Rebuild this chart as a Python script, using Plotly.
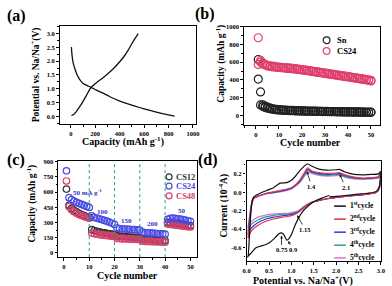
import plotly.graph_objects as go

W, H = 392, 286
SERIF = "Liberation Serif"

# ---------------- data: panel (a) ----------------
A_DIS_CAP = [5, 8, 13, 20, 32, 45, 59, 75, 99, 130, 165, 210, 259, 320, 392, 455, 525, 600, 685, 770, 850]
A_DIS_V = [2.51, 2.30, 2.10, 1.92, 1.74, 1.57, 1.44, 1.32, 1.20, 1.12, 1.05, 0.95, 0.85, 0.71, 0.57, 0.47, 0.37, 0.27, 0.17, 0.08, 0.01]
A_CHG_CAP = [5, 25, 45, 65, 85, 105, 125, 145, 165, 210, 259, 305, 352, 395, 432, 470, 499, 530, 552]
A_CHG_V = [0.02, 0.07, 0.17, 0.30, 0.43, 0.58, 0.73, 0.90, 1.05, 1.22, 1.38, 1.55, 1.74, 1.95, 2.15, 2.40, 2.63, 2.85, 3.0]

# ---------------- data: panel (b) ----------------
CYCLES = list(range(1, 51))
SN_DIS = [630, 265, 120, 105, 95, 85, 78, 72, 68, 65,
          63, 61, 59, 58, 57, 56, 55, 54, 53, 52,
          51, 50, 50, 49, 48, 48, 47, 46, 46, 45,
          45, 44, 44, 43, 43, 42, 42, 41, 41, 40,
          40, 40, 39, 39, 39, 38, 38, 38, 37, 37]
SN_CHG = [410, 118, 100, 90, 82, 75, 70, 66, 63, 61,
          59, 57, 56, 55, 54, 53, 52, 51, 50, 49,
          49, 48, 47, 47, 46, 46, 45, 45, 44, 44,
          43, 43, 42, 42, 41, 41, 40, 40, 39, 39,
          39, 38, 38, 38, 37, 37, 37, 36, 36, 36]
CS24_DIS = [875, 620, 590, 575, 565, 560, 555, 552, 548, 545,
            542, 540, 537, 535, 532, 530, 527, 524, 520, 517,
            513, 510, 506, 502, 498, 494, 490, 486, 482, 478,
            474, 470, 466, 462, 458, 454, 450, 446, 442, 438,
            434, 430, 426, 422, 418, 414, 410, 405, 400, 395]
CS24_CHG = [575, 600, 580, 568, 558, 552, 548, 545, 542, 540,
            537, 535, 532, 530, 527, 525, 522, 519, 515, 512,
            508, 505, 501, 497, 493, 489, 485, 481, 477, 473,
            469, 465, 461, 457, 453, 449, 445, 441, 437, 433,
            429, 425, 421, 417, 413, 409, 405, 400, 395, 388]

# ---------------- data: panel (c) ----------------
C_CS24 = [810, 545, 525, 510, 498, 488, 478, 468, 458, 448,
          365, 350, 342, 335, 328, 320, 312, 303, 292, 280,
          245, 240, 237, 235, 233, 232, 230, 228, 227, 225,
          205, 200, 198, 196, 194, 192, 190, 188, 186, 184,
          330, 340, 342, 340, 336, 332, 328, 322, 316, 310]
C_CS12 = [630, 470, 440, 420, 405, 390, 378, 368, 358, 350,
          228, 220, 212, 206, 200, 196, 192, 188, 184, 180,
          168, 165, 162, 160, 158, 156, 154, 152, 150, 148,
          138, 135, 133, 131, 129, 127, 125, 123, 121, 120,
          300, 298, 295, 292, 288, 284, 280, 276, 272, 268]
C_CS48 = [710, 455, 425, 405, 390, 378, 368, 358, 350, 342,
          195, 188, 183, 179, 176, 173, 170, 167, 164, 162,
          142, 140, 138, 137, 136, 135, 134, 133, 132, 131,
          115, 113, 112, 111, 110, 109, 108, 107, 106, 105,
          285, 280, 277, 274, 270, 267, 264, 261, 258, 255]
RATE_EDGES = [10, 20, 30, 40]
RATE_LABELS = ["50 mA g<sup>-1</sup>", "100", "150", "200", "50"]
RATE_LABEL_X = [9.5, 15.3, 24.8, 35.2, 46.5]
RATE_LABEL_Y = [598, 402, 318, 285, 417]

# ---------------- data: panel (d) ----------------
CV1_CATH_V = [1.85, 1.70, 1.55, 1.45, 1.35, 1.25, 1.16, 1.08, 1.01, 0.95, 0.90, 0.83, 0.775, 0.72, 0.64, 0.53, 0.42, 0.31, 0.20, 0.09, 0.02]
CV1_CATH_I = [-0.035, -0.06, -0.09, -0.12, -0.16, -0.21, -0.28, -0.36, -0.45, -0.50, -0.52, -0.46, -0.44, -0.45, -0.49, -0.54, -0.57, -0.585, -0.605, -0.665, -0.70]
CV_AN_V = [0.03, 0.06, 0.09, 0.12, 0.16, 0.22, 0.3, 0.45, 0.6, 0.75, 0.9, 1.0, 1.1, 1.2, 1.3, 1.36, 1.45, 1.6, 1.8, 2.0, 2.07, 2.2, 2.4, 2.6, 2.8, 2.95, 3.0]
CV_CA_V = [3.0, 2.97, 2.9, 2.7, 2.5, 2.2, 2.0, 1.8, 1.6, 1.45, 1.35, 1.25, 1.15, 1.05, 0.95, 0.8, 0.6, 0.4, 0.25, 0.12, 0.06, 0.03]
CV1_AN_I = [-0.70, -0.50, -0.25, -0.10, -0.05, -0.03, -0.01, 0.02, 0.05, 0.10, 0.105, 0.13, 0.18, 0.24, 0.29, 0.31, 0.285, 0.255, 0.24, 0.245, 0.25, 0.22, 0.195, 0.19, 0.195, 0.20, 0.23]
CV1_RET_V = [3.0, 2.97, 2.9, 2.7, 2.5, 2.2, 2.0, 1.85]
CV1_RET_I = [0.23, 0.07, 0.01, -0.01, -0.02, -0.035, -0.045, -0.05]
CV2_AN_I = [-0.50, -0.36, -0.22, -0.12, -0.07, -0.05, -0.035, -0.01, 0.005, 0.02, 0.035, 0.05, 0.085, 0.14, 0.22, 0.265, 0.235, 0.215, 0.205, 0.21, 0.215, 0.19, 0.165, 0.155, 0.16, 0.17, 0.22]
CV3_AN_I = [-0.46, -0.33, -0.20, -0.11, -0.065, -0.05, -0.035, -0.01, 0.0, 0.015, 0.03, 0.045, 0.08, 0.13, 0.21, 0.25, 0.225, 0.205, 0.195, 0.20, 0.205, 0.18, 0.16, 0.15, 0.155, 0.165, 0.21]
CV4_AN_I = [-0.42, -0.30, -0.19, -0.10, -0.06, -0.05, -0.035, -0.015, -0.005, 0.01, 0.025, 0.04, 0.075, 0.12, 0.195, 0.235, 0.215, 0.195, 0.185, 0.19, 0.195, 0.17, 0.15, 0.145, 0.15, 0.16, 0.20]
CV5_AN_I = [-0.38, -0.28, -0.17, -0.09, -0.055, -0.045, -0.035, -0.015, -0.005, 0.005, 0.02, 0.035, 0.07, 0.11, 0.18, 0.22, 0.205, 0.185, 0.175, 0.18, 0.185, 0.165, 0.145, 0.14, 0.145, 0.155, 0.19]
CV2_CA_I = [0.22, 0.06, 0.0, -0.02, -0.03, -0.045, -0.055, -0.07, -0.09, -0.11, -0.14, -0.18, -0.22, -0.245, -0.26, -0.27, -0.29, -0.32, -0.36, -0.41, -0.46, -0.50]
CV3_CA_I = [0.21, 0.05, 0.0, -0.02, -0.03, -0.045, -0.055, -0.07, -0.09, -0.11, -0.14, -0.175, -0.215, -0.235, -0.245, -0.255, -0.27, -0.295, -0.33, -0.38, -0.42, -0.46]
CV4_CA_I = [0.20, 0.05, 0.0, -0.02, -0.03, -0.045, -0.055, -0.07, -0.09, -0.11, -0.135, -0.17, -0.21, -0.225, -0.235, -0.24, -0.25, -0.27, -0.30, -0.34, -0.38, -0.42]
CV5_CA_I = [0.19, 0.05, 0.0, -0.02, -0.03, -0.045, -0.055, -0.07, -0.09, -0.105, -0.13, -0.165, -0.20, -0.215, -0.225, -0.23, -0.235, -0.25, -0.27, -0.31, -0.345, -0.38]
CV_NAMES = ["1<sup>st</sup>cycle", "2<sup>nd</sup>cycle", "3<sup>rd</sup>cycle", "4<sup>th</sup>cycle", "5<sup>th</sup>cycle"]
CV_COLORS = ["#111111", "#e2304e", "#3636d6", "#2e9e92", "#dd74cf"]
D_PEAKS = ["1.4", "2.1", "1.15", "0.75", "0.9"]
D_PEAK_TIP = [(1.35, 0.225), (2.08, 0.195), (1.13, -0.25), (0.78, -0.47), (0.93, -0.53)]
D_PEAK_TXT = [(1.45, 0.065), (2.21, 0.055), (1.31, -0.405), (0.78, -0.625), (1.04, -0.625)]

# ---------------- helpers ----------------
def PX(x):
    return x / W

def PY(y):
    return 1 - y / H

TICKFONT = dict(family=SERIF, size=6.5, color="black", weight="bold")


def axis(dom, rng, dtick, mdtick, anchor, fmt=None, tickvals=None, ticktext=None):
    d = dict(domain=dom, range=rng, anchor=anchor, showline=True, mirror=True,
             linecolor="black", linewidth=1.3, ticks="outside", ticklen=2.6,
             tickwidth=1, tickcolor="black", showgrid=False, zeroline=False,
             tickfont=TICKFONT, fixedrange=True,
             minor=dict(ticks="outside", ticklen=1.6, tickwidth=0.8,
                        tickcolor="black", dtick=mdtick, tick0=0, showgrid=False))
    if tickvals is not None:
        d.update(tickmode="array", tickvals=tickvals, ticktext=ticktext)
    else:
        d.update(dtick=dtick, tick0=0)
    if fmt:
        d["tickformat"] = fmt
    return d


fig = go.Figure()

# ---- panel (a)
fig.add_trace(go.Scatter(x=A_DIS_CAP, y=A_DIS_V, mode="lines", xaxis="x", yaxis="y",
                         line=dict(color="#111", width=1.3, shape="spline", smoothing=0.6)))
fig.add_trace(go.Scatter(x=A_CHG_CAP, y=A_CHG_V, mode="lines", xaxis="x", yaxis="y",
                         line=dict(color="#111", width=1.3, shape="spline", smoothing=0.6)))

# ---- panel (b)
def rings(x, y, color, size, xa, ya):
    return go.Scatter(x=x, y=y, mode="markers", xaxis=xa, yaxis=ya,
                      marker=dict(symbol="circle-open", size=size, color=color,
                                  line=dict(width=1.2, color=color)))

fig.add_trace(rings(CYCLES, SN_CHG, "#222", 8, "x2", "y2"))
fig.add_trace(rings(CYCLES, SN_DIS, "#222", 8, "x2", "y2"))
fig.add_trace(rings(CYCLES, CS24_CHG, "#e0406e", 8, "x2", "y2"))
fig.add_trace(rings(CYCLES, CS24_DIS, "#e0406e", 8, "x2", "y2"))

# ---- panel (c)
fig.add_trace(rings(CYCLES, C_CS12, "#333", 6.5, "x3", "y3"))
fig.add_trace(rings(CYCLES, C_CS48, "#d9406c", 6.5, "x3", "y3"))
fig.add_trace(rings(CYCLES, C_CS24, "#4a4ae6", 6.5, "x3", "y3"))

# ---- panel (d)
an = [CV1_AN_I, CV2_AN_I, CV3_AN_I, CV4_AN_I, CV5_AN_I]
ca = [None, CV2_CA_I, CV3_CA_I, CV4_CA_I, CV5_CA_I]
for k in [4, 3, 2, 1, 0]:
    c = CV_COLORS[k]
    ln = dict(color=c, width=1.2, shape="spline", smoothing=0.5)
    if k == 0:
        xs = CV1_CATH_V + CV_AN_V + CV1_RET_V
        ys = CV1_CATH_I + an[0] + CV1_RET_I
    else:
        xs = CV_CA_V + CV_AN_V
        ys = ca[k] + an[k]
    fig.add_trace(go.Scatter(x=xs, y=ys, mode="lines", xaxis="x4", yaxis="y4", line=ln))

# ---------------- layout ----------------
A_dom = ([PX(57), PX(196)], [PY(122), PY(22.7)])
B_dom = ([PX(245), PX(384)], [PY(123), PY(23)])
C_dom = ([PX(55.5), PX(197)], [PY(256.7), PY(159.7)])
D_dom = ([PX(247.7), PX(384.7)], [PY(261), PY(159.7)])

fig.update_layout(
    width=W, height=H, margin=dict(l=0, r=0, t=0, b=0),
    paper_bgcolor="white", plot_bgcolor="white", showlegend=False,
    xaxis=axis(A_dom[0], [-90, 1025], 200, 100, "y"),
    yaxis=axis(A_dom[1], [-0.29, 3.26], 0.5, 0.25, "x", fmt=".1f"),
    xaxis2=axis(B_dom[0], [-5.2, 54], 10, 5, "y2"),
    yaxis2=axis(B_dom[1], [-111, 1000], 200, 100, "x2"),
    xaxis3=axis(C_dom[0], [-2.2, 52.6], 10, 5, "y3"),
    yaxis3=axis(C_dom[1], [-43, 903], 150, 75, "x3"),
    xaxis4=axis(D_dom[0], [0, 3.0], 0.5, 0.25, "y4", fmt=".1f"),
    yaxis4=axis(D_dom[1], [-0.75, 0.335], 0.2, 0.1, "x4",
                tickvals=[-0.6, -0.4, -0.2, 0.0, 0.2],
                ticktext=["-0.6", "-0.4", "-0.2", "0.0", "0.2"]),
)

ann = []
shapes = []

def text(x, y, s, size, angle=0, color="black", xanchor="center"):
    ann.append(dict(x=PX(x), y=PY(y), xref="paper", yref="paper", text="<b>" + s + "</b>",
                    showarrow=False, textangle=angle, xanchor=xanchor, yanchor="middle",
                    font=dict(family=SERIF, size=size, color=color)))

# panel letters
text(13, 12, "(a)", 16)
text(205, 10, "(b)", 16)
text(12, 158, "(c)", 16)
text(208, 158, "(d)", 16)

# axis titles
text(33, 72, "Potential vs. Na/Na<sup>+</sup>(V)", 9.5, -90)
text(121, 139.5, "Capacity (mAh g<sup>-1</sup>)", 10)
text(221, 60, "Capacity (mAh g<sup>-1</sup>)", 9.5, -90)
text(313, 140.5, "Cycle number", 10)
text(28, 202, "Capacity (mAh g<sup>-1</sup>)", 9.5, -90)
text(126, 275.5, "Cycle number", 10)
text(224, 204, "Current (10<sup>-4</sup>A)", 9.5, -90)
text(305, 280, "Potential vs. Na/Na<sup>+</sup>(V)", 10)

# legend (b)
B_LEG = [("Sn", "#222", 36.7), ("CS24", "#e0406e", 47.7)]
for name, col, yy in B_LEG:
    shapes.append(dict(type="circle", xref="paper", yref="paper", xsizemode="pixel", ysizemode="pixel",
                       xanchor=PX(329.3), yanchor=PY(yy), x0=-3.4, x1=3.4, y0=-3.4, y1=3.4,
                       line=dict(color=col, width=1.2)))
    text(338, yy, name, 8.5, xanchor="left")

# legend (c)
C_LEG = [("CS12", "#333", 175.3), ("CS24", "#4a4ae6", 184.7), ("CS48", "#d9406c", 194.5)]
for name, col, yy in C_LEG:
    shapes.append(dict(type="circle", xref="paper", yref="paper", xsizemode="pixel", ysizemode="pixel",
                       xanchor=PX(168.5), yanchor=PY(yy), x0=-3, x1=3, y0=-3, y1=3,
                       line=dict(color=col, width=1.2)))
    text(174, yy, name, 8.5, color=col, xanchor="left")

# rate labels & dotted lines (c)
for xv in RATE_EDGES:
    shapes.append(dict(type="line", xref="x3", yref="y3 domain", x0=xv, x1=xv, y0=0, y1=1,
                       line=dict(color="#25a06e", width=1, dash="dot")))
for s, xv, yv in zip(RATE_LABELS, RATE_LABEL_X, RATE_LABEL_Y):
    ann.append(dict(x=xv, y=yv, xref="x3", yref="y3", text="<b>" + s + "</b>", showarrow=False,
                    font=dict(family=SERIF, size=7, color="#3434c8")))

# legend (d)
D_LEG_Y = [205, 218.2, 231.4, 244.6, 257.5]
for name, col, yy in zip(CV_NAMES, CV_COLORS, D_LEG_Y):
    shapes.append(dict(type="line", xref="paper", yref="paper", x0=PX(337), x1=PX(349),
                       y0=PY(yy), y1=PY(yy), line=dict(color=col, width=1.5)))
    text(351, yy - 1, name, 7.5, xanchor="left")

# peak labels (d)
for s, tip, tx in zip(D_PEAKS, D_PEAK_TIP, D_PEAK_TXT):
    ann.append(dict(x=tip[0], y=tip[1], xref="x4", yref="y4", ax=tx[0], ay=tx[1],
                    axref="x4", ayref="y4", text="<b>" + s + "</b>", showarrow=True,
                    arrowhead=2, arrowsize=0.7, arrowwidth=0.8, arrowcolor="#111",
                    font=dict(family=SERIF, size=6.5, color="black")))

fig.update_layout(annotations=ann, shapes=shapes)
fig.write_html("out.html", config={"displayModeBar": False},
               post_script="document.body.style.margin='0';document.body.style.padding='0';")
